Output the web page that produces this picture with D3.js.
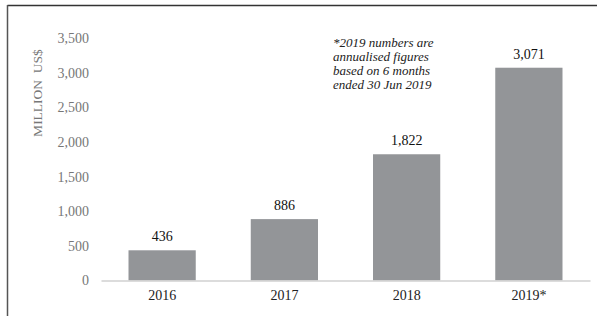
<!DOCTYPE html>
<html><head><meta charset="utf-8">
<script src="https://cdn.jsdelivr.net/npm/d3@7"></script>
<style>body{margin:0;background:#fff}svg{display:block}</style>
</head><body>
<svg id="c" width="597" height="316"></svg>
<script>
const categories = ["2016", "2017", "2018", "2019*"];
const values = [436, 886, 1822, 3071];
const valueLabels = ["436", "886", "1,822", "3,071"];
const yTicks = [0, 500, 1000, 1500, 2000, 2500, 3000, 3500];
const yLabel = "MILLION  US$";
const note = ["*2019 numbers are", "annualised figures", "based on 6 months", "ended 30 Jun 2019"];

const svg = d3.select("#c");
const font = "'Liberation Serif','Times New Roman',serif";

// frame
svg.append("line").attr("x1", 7.5).attr("x2", 597).attr("y1", 5.5).attr("y2", 5.5).attr("stroke", "#333").attr("stroke-width", 1.5);
svg.append("line").attr("x1", 7.5).attr("x2", 7.5).attr("y1", 5).attr("y2", 316).attr("stroke", "#555").attr("stroke-width", 1.5);

const x = d3.scaleBand().domain(categories).range([101, 590]).paddingInner(0.45).paddingOuter(0.225);
const y = d3.scaleLinear().domain([0, 3500]).range([280.5, 38]);

// y tick labels
const yAxis = d3.axisLeft(y).tickValues(yTicks).tickSize(0).tickPadding(0).tickFormat(d3.format(","));
const gy = svg.append("g").attr("transform", "translate(89,0)").call(yAxis);
gy.select(".domain").remove();
gy.selectAll("text").attr("font-family", font).attr("font-size", 14).attr("fill", "#777");

// bars
svg.selectAll("rect.bar").data(values).join("rect")
  .attr("x", (d, i) => x(categories[i])).attr("width", x.bandwidth())
  .attr("y", d => y(d)).attr("height", d => y(0) - y(d))
  .attr("fill", "#939598");

// baseline / x axis
const xAxis = d3.axisBottom(x).tickSize(0).tickPadding(10);
const gx = svg.append("g").attr("transform", `translate(0,${y(0)})`).call(xAxis);
gx.select(".domain").attr("stroke", "#d0d0d0").attr("stroke-width", 1.5);
gx.selectAll("text").attr("font-family", font).attr("font-size", 14).attr("fill", "#222");

// value labels
svg.selectAll("text.val").data(values).join("text")
  .attr("x", (d, i) => x(categories[i]) + x.bandwidth() / 2)
  .attr("y", d => y(d) - 9)
  .attr("text-anchor", "middle").attr("font-family", font).attr("font-size", 14).attr("fill", "#111")
  .text((d, i) => valueLabels[i]);

// y label
svg.append("text").attr("transform", "translate(42,93) rotate(-90)")
  .attr("text-anchor", "middle").attr("font-family", font).attr("font-size", 13.5).attr("fill", "#777")
  .attr("xml:space", "preserve").style("white-space", "pre").text(yLabel);

// note
svg.append("g").selectAll("text").data(note).join("text")
  .attr("x", 333).attr("y", (d, i) => 47 + i * 14)
  .attr("font-family", font).attr("font-style", "italic").attr("font-size", 13).attr("fill", "#222")
  .text(d => d);
</script>
</body></html>
